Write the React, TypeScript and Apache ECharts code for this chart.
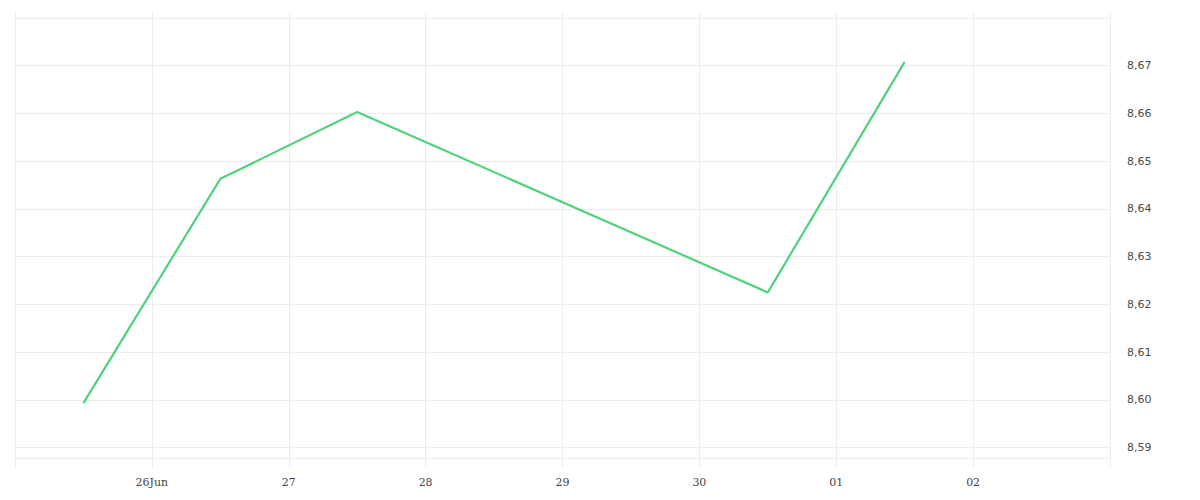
import React, { useEffect, useRef } from "react";
import * as echarts from "echarts";

// Data (closing values at midday of each trading day)
const startDate = "2025-06-25";
const dates = ["2025-06-25", "2025-06-26", "2025-06-27", "2025-06-30", "2025-07-01"];
const values = [8.5993, 8.6463, 8.6603, 8.6225, 8.6708];

// Tick labels
const xTickLabels = ["", "26Jun", "27", "28", "29", "30", "01", "02", ""];
const yTickValues = [8.59, 8.6, 8.61, 8.62, 8.63, 8.64, 8.65, 8.66, 8.67];
const yTickLabels = ["8,59", "8,60", "8,61", "8,62", "8,63", "8,64", "8,65", "8,66", "8,67"];

const DAY = 86400000;

export default function App() {
  const ref = useRef<HTMLDivElement>(null);

  useEffect(() => {
    if (!ref.current) return;
    const chart = echarts.init(ref.current, null, { renderer: "svg" });
    const t0 = Date.parse(startDate + "T00:00:00Z");
    const points = dates.map((d, i) => [
      (Date.parse(d + "T00:00:00Z") - t0) / DAY + 0.5,
      values[i],
    ]);
    const gridColor = "#ececec";
    chart.setOption({
      animation: false,
      backgroundColor: "#ffffff",
      grid: { left: 15, right: 90, top: 12, bottom: 32, containLabel: false },
      xAxis: {
        type: "value",
        min: 0,
        max: xTickLabels.length - 1,
        interval: 1,
        offset: -10,
        axisLine: { show: true, lineStyle: { color: gridColor, width: 1 } },
        axisTick: { show: true, length: 10, lineStyle: { color: gridColor } },
        splitLine: { show: true, lineStyle: { color: gridColor, width: 1 } },
        axisLabel: {
          margin: 19,
          color: "#444",
          fontFamily: "DejaVu Serif",
          fontSize: 11,
          showMinLabel: false,
          showMaxLabel: false,
          formatter: (v: number) => xTickLabels[Math.round(v)] ?? "",
        },
      },
      yAxis: {
        type: "value",
        position: "right",
        min: 8.5857,
        max: 8.68126,
        splitNumber: 10,
        scale: true,
        axisLine: { show: true, lineStyle: { color: gridColor, width: 1 } },
        axisTick: { show: false },
        splitLine: {
          show: true,
          showMinLine: false,
          showMaxLine: false,
          lineStyle: { color: gridColor, width: 1 },
        },
        axisLabel: {
          margin: 17,
          color: "#4a4a4a",
          fontFamily: "DejaVu Sans",
          fontSize: 11,
          showMinLabel: false,
          showMaxLabel: false,
          formatter: (v: number) => {
            const idx = yTickValues.findIndex((t) => Math.abs(t - v) < 1e-6);
            return idx >= 0 ? yTickLabels[idx] : "";
          },
        },
      },
      series: [
        {
          type: "line",
          data: points,
          symbol: "none",
          lineStyle: { color: "#4fd27b", width: 2.2 },
          itemStyle: { color: "#4fd27b" },
        },
      ],
    });
    return () => chart.dispose();
  }, []);

  return (
    <div
      ref={ref}
      style={{ position: "fixed", left: 0, top: 0, width: 1200, height: 500 }}
    />
  );
}
